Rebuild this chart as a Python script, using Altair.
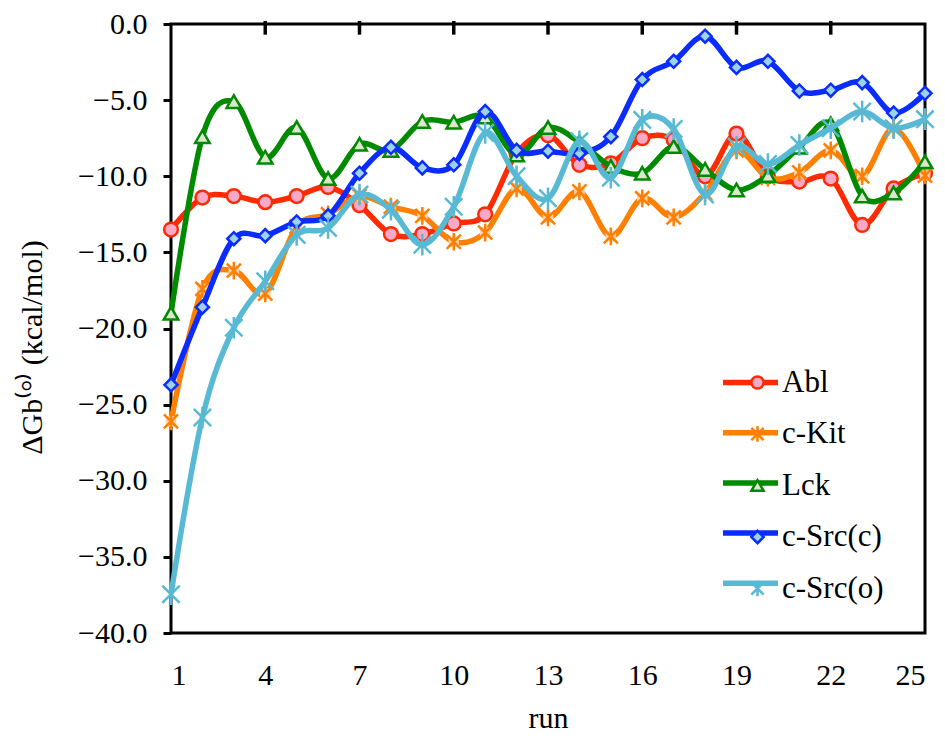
import altair as alt
import pandas as pd

runs = list(range(1, 26))
series_names = ["Abl", "c-Kit", "Lck", "c-Src(c)", "c-Src(o)"]

abl = [-13.5, -11.4, -11.3, -11.7, -11.3, -10.7, -11.9, -13.8, -13.8, -13.1,
       -12.5, -8.5, -7.3, -9.25, -9.15, -7.5, -7.6, -10.0, -7.2, -10.0,
       -10.35, -10.15, -13.2, -10.8, -9.8]
ckit = [-26.1, -17.4, -16.2, -17.7, -13.3, -12.5, -11.3, -12.0, -12.6, -14.3,
        -13.7, -10.8, -12.7, -11.0, -13.95, -11.45, -12.7, -11.1, -8.3, -10.1,
        -9.75, -8.3, -10.0, -6.85, -9.95]
lck = [-19.0, -7.4, -5.1, -8.75, -6.8, -10.15, -7.9, -8.3, -6.4, -6.45,
       -6.1, -8.6, -6.8, -7.75, -9.35, -9.8, -8.05, -9.55, -10.9, -9.95,
       -8.1, -6.55, -11.3, -11.1, -9.05]
csrc_c = [-23.7, -18.6, -14.1, -13.9, -13.0, -12.6, -9.8, -8.1, -9.45, -9.25,
          -5.75, -8.3, -8.35, -8.5, -7.4, -3.65, -2.45, -0.8, -2.85, -2.45,
          -4.4, -4.35, -3.85, -5.85, -4.55]
csrc_o = [-37.45, -25.85, -19.95, -16.9, -13.85, -13.4, -11.2, -12.2, -14.5, -12.0,
          -7.15, -10.0, -11.45, -7.7, -10.1, -6.3, -6.9, -11.2, -8.05, -9.2,
          -7.95, -6.85, -5.75, -6.85, -6.25]

x_tick_labels = [1, 4, 7, 10, 13, 16, 19, 22, 25]
top_ticks = [4, 7, 10, 13, 16, 19, 22]
y_ticks = [0, -5, -10, -15, -20, -25, -30, -35, -40]

line_colors = ["#ff2a00", "#ff8000", "#008a00", "#0a2cff", "#58b9d4"]
fill_colors = ["#f9a9c8", "#fcd2ad", "#dbe8cf", "#9cd2ea", "#58b9d4"]
star = "M-1,-1L1,1M-1,1L1,-1M0,-1.25L0,1.25"
shapes = ["circle", star, "triangle-up", "diamond", star]
sizes = [190, 200, 210, 170, 300]
backing = [None, "#fcd2ad", None, None, None]

values = [abl, ckit, lck, csrc_c, csrc_o]
rows = []
for name, vals in zip(series_names, values):
    for r, v in zip(runs, vals):
        rows.append({"run": r, "value": v, "series": name, "series_l": name})
df = pd.DataFrame(rows)

FONT = "Liberation Serif"
LAB = 30
LEG = 31

x_enc = alt.X("run:Q",
              scale=alt.Scale(domain=[1, 25], nice=False, zero=False),
              axis=alt.Axis(values=x_tick_labels, ticks=False, domain=False,
                            grid=False, labelPadding=27, labelAngle=0,
                            title="run", titleBaseline="middle", titleY=85))
y_enc = alt.Y("value:Q",
              scale=alt.Scale(domain=[-40, 0], nice=False, zero=False),
              axis=alt.Axis(values=y_ticks, format=".1f", tickSize=8, tickWidth=3,
                            tickColor="black", domain=False, grid=False,
                            labelPadding=16,
                            title="ΔGb⁽°⁾ (kcal/mol)", titleAngle=-90,
                            titleAlign="center", titleBaseline="middle",
                            titleX=-139, titleY=323))

line_legend = alt.Legend(orient="none", legendX=549, legendY=328, title=None,
                         symbolType="stroke", symbolSize=3025, symbolStrokeWidth=5.5,
                         labelExpr="''", labelOpacity=0, labelFontSize=LEG,
                         labelFont=FONT, rowPadding=4.2, padding=0, labelOffset=6)
point_legend = alt.Legend(orient="none", legendX=571, legendY=343, title=None,
                          symbolSize=150, symbolStrokeWidth=2.5,
                          labelFontSize=LEG, labelFont=FONT, labelColor="black",
                          rowPadding=19.5, padding=0, labelOffset=9)

color_scale = alt.Scale(range=line_colors)
stroke_scale = alt.Scale(domain=series_names, range=line_colors)
fill_scale = alt.Scale(domain=series_names, range=fill_colors)
shape_scale = alt.Scale(domain=series_names, range=shapes)

layers = []
for name, sz, back in zip(series_names, sizes, backing):
    sub = alt.Chart(df).transform_filter(alt.datum.series == name)
    line = sub.mark_line(interpolate="cardinal", strokeWidth=5.5).encode(
        x=x_enc, y=y_enc,
        color=alt.Color("series_l:N", scale=color_scale, sort=series_names,
                        legend=line_legend),
    )
    layers.append(line)
    if back:
        layers.append(sub.mark_point(shape="square", filled=True, color=back,
                                     opacity=1, size=110).encode(x=x_enc, y=y_enc))
    pts = sub.mark_point(filled=False, strokeWidth=2.5, opacity=1, size=sz).encode(
        x=x_enc, y=y_enc,
        shape=alt.Shape("series:N", scale=shape_scale, legend=point_legend),
        fill=alt.Fill("series:N", scale=fill_scale, legend=point_legend),
        stroke=alt.Stroke("series:N", scale=stroke_scale, legend=point_legend),
    )
    layers.append(pts)

tick_df = pd.DataFrame({"run": top_ticks})
ticks = alt.Chart(tick_df).mark_rule(color="black", strokeWidth=3.5, opacity=1).encode(
    x=alt.X("run:Q"), y=alt.datum(0.2), y2=alt.datum(-0.7)
)
layers.append(ticks)

chart = alt.layer(*layers).properties(
    width=754, height=609,
    autosize=alt.AutoSizeParams(type="none"),
    padding={"left": 163, "top": 16, "right": 12, "bottom": 104},
).configure(
    font=FONT,
).configure_view(
    stroke="black", strokeWidth=3
).configure_axis(
    labelFont=FONT, titleFont=FONT, labelFontSize=LAB, titleFontSize=LAB,
    labelColor="black", titleColor="black", titleFontWeight="normal",
)

chart.save("out.html", embed_options={"renderer": "svg", "actions": False})
